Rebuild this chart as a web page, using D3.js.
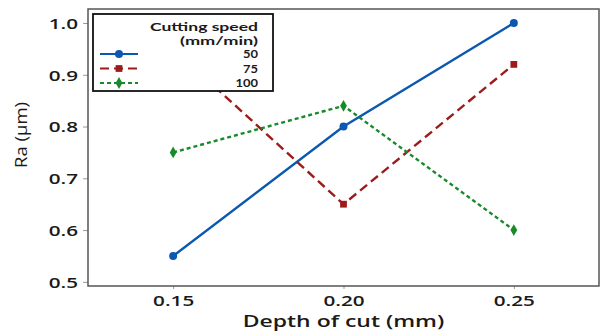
<!DOCTYPE html>
<html>
<head>
<meta charset="utf-8">
<script src="https://cdn.jsdelivr.net/npm/d3@7"></script>
<style>
  body { margin: 0; background: #fff; }
  text { font-family: "Open Sans", "Noto Sans", sans-serif; }
</style>
</head>
<body>
<div id="chart"></div>
<script>
// data
const depths = [0.15, 0.20, 0.25];
const speeds = ["50", "75", "100"];
const ra50 = [0.55, 0.80, 1.00];
const ra75 = [0.95, 0.65, 0.92];
const ra100 = [0.75, 0.84, 0.60];
const yTicks = [0.5, 0.6, 0.7, 0.8, 0.9, 1.0];

const width = 601, height = 333;
const margin = { top: 9, right: 2, bottom: 47, left: 88 };

const svg = d3.select("#chart").append("svg")
  .attr("width", width).attr("height", height);

const x = d3.scaleLinear().domain([0.125, 0.275]).range([margin.left, width - margin.right]);
const y = d3.scaleLinear().domain([0.492, 1.027]).range([height - margin.bottom, margin.top]);

// text in the picture is stretched sideways, so widen glyphs
const wide = 1.38;
function stretch(sel, k) {
  sel.each(function () {
    const w = this.getComputedTextLength();
    d3.select(this).attr("textLength", w * k).attr("lengthAdjust", "spacingAndGlyphs");
  });
}

// series styles
const styles = [
  { color: "#0a58b0", dash: null, shape: d3.symbolCircle, size: 50 },
  { color: "#9e1b1b", dash: "9,5", shape: d3.symbolSquare, size: 46 },
  { color: "#198a2c", dash: "4,3", shape: d3.symbolDiamond, size: 40 }
];
const series = [ra50, ra75, ra100].map((vals, i) => ({
  name: speeds[i], style: styles[i],
  points: vals.map((v, j) => ({ x: depths[j], y: v }))
}));

// axes
const gx = svg.append("g")
  .attr("transform", `translate(0,${height - margin.bottom})`)
  .call(d3.axisBottom(x).tickValues(depths).tickFormat(d3.format(".2f")).tickSize(3).tickSizeOuter(0));
const gy = svg.append("g")
  .attr("transform", `translate(${margin.left},0)`)
  .call(d3.axisLeft(y).tickValues(yTicks).tickFormat(d3.format(".1f")).tickSize(5).tickSizeOuter(0));

[gx, gy].forEach(g => {
  g.select(".domain").remove();
  g.selectAll(".tick line").attr("stroke", "#999");
  g.selectAll(".tick text")
    .style("font-size", "15px").style("font-weight", 600).attr("fill", "#1a1a1a");
});
gx.selectAll(".tick text").attr("y", 20).attr("dy", null);
gy.selectAll(".tick text").attr("x", -10).attr("dy", "0.36em");
stretch(gx.selectAll(".tick text"), wide);
stretch(gy.selectAll(".tick text"), wide);

// frame
svg.append("rect")
  .attr("x", margin.left).attr("y", margin.top)
  .attr("width", width - margin.left - margin.right)
  .attr("height", height - margin.top - margin.bottom)
  .attr("fill", "none").attr("stroke", "#555").attr("stroke-width", 1.5);

// lines
const line = d3.line().x(d => x(d.x)).y(d => y(d.y));
const sg = svg.append("g").selectAll("g").data(series).join("g");
sg.append("path")
  .attr("d", d => line(d.points))
  .attr("fill", "none")
  .attr("stroke", d => d.style.color)
  .attr("stroke-width", 2.4)
  .attr("stroke-dasharray", d => d.style.dash);
sg.selectAll("path.mk")
  .data(d => d.points.map(p => ({ p, s: d.style })))
  .join("path")
  .attr("class", "mk")
  .attr("transform", d => `translate(${x(d.p.x)},${y(d.p.y)})`)
  .attr("d", d => d3.symbol(d.s.shape, d.s.size)())
  .attr("fill", d => d.s.color);

// axis titles
const xTitle = svg.append("text")
  .attr("x", (margin.left + width - margin.right) / 2)
  .attr("y", 327)
  .attr("text-anchor", "middle")
  .style("font-size", "17px").style("font-weight", 600).attr("fill", "#1a1a1a")
  .text("Depth of cut (mm)");
stretch(xTitle, 1.35);
const yTitle = svg.append("text")
  .attr("transform", "translate(27,135) rotate(-90)")
  .attr("text-anchor", "middle")
  .style("font-size", "16px").attr("fill", "#1a1a1a")
  .text("Ra (µm)");
yTitle.attr("textLength", 66).attr("lengthAdjust", "spacingAndGlyphs");

// legend
const legend = svg.append("g").attr("transform", "translate(93,14)");
legend.append("rect")
  .attr("width", 180).attr("height", 77)
  .attr("fill", "#fff").attr("stroke", "#111").attr("stroke-width", 1.8);
const legendText = (txt, yy, len) => legend.append("text")
  .attr("x", 165).attr("y", yy).attr("text-anchor", "end")
  .style("font-family", "Lato, 'Open Sans', sans-serif")
  .style("font-size", "11.5px").style("font-weight", 700).attr("fill", "#1a1a1a")
  .attr("textLength", len).attr("lengthAdjust", "spacingAndGlyphs")
  .text(txt);
legendText("Cutting speed", 17, 108);
legendText("(mm/min)", 31, 78);
const li = legend.selectAll("g.item").data(series).join("g")
  .attr("class", "item")
  .attr("transform", (d, i) => `translate(0,${40 + i * 14.5})`);
li.append("line")
  .attr("x1", 7).attr("x2", 45)
  .attr("stroke", d => d.style.color).attr("stroke-width", 2)
  .attr("stroke-dasharray", d => d.style.dash);
li.append("path")
  .attr("transform", "translate(26,0)")
  .attr("d", d => d3.symbol(d.style.shape, d.style.size)())
  .attr("fill", d => d.style.color);
li.append("text")
  .attr("x", 165).attr("y", 4).attr("text-anchor", "end")
  .style("font-family", "Lato, 'Open Sans', sans-serif")
  .style("font-size", "11.5px").style("font-weight", 700).attr("fill", "#1a1a1a")
  .attr("textLength", d => d.name.length * 7.5).attr("lengthAdjust", "spacingAndGlyphs")
  .text(d => d.name);
</script>
</body>
</html>
